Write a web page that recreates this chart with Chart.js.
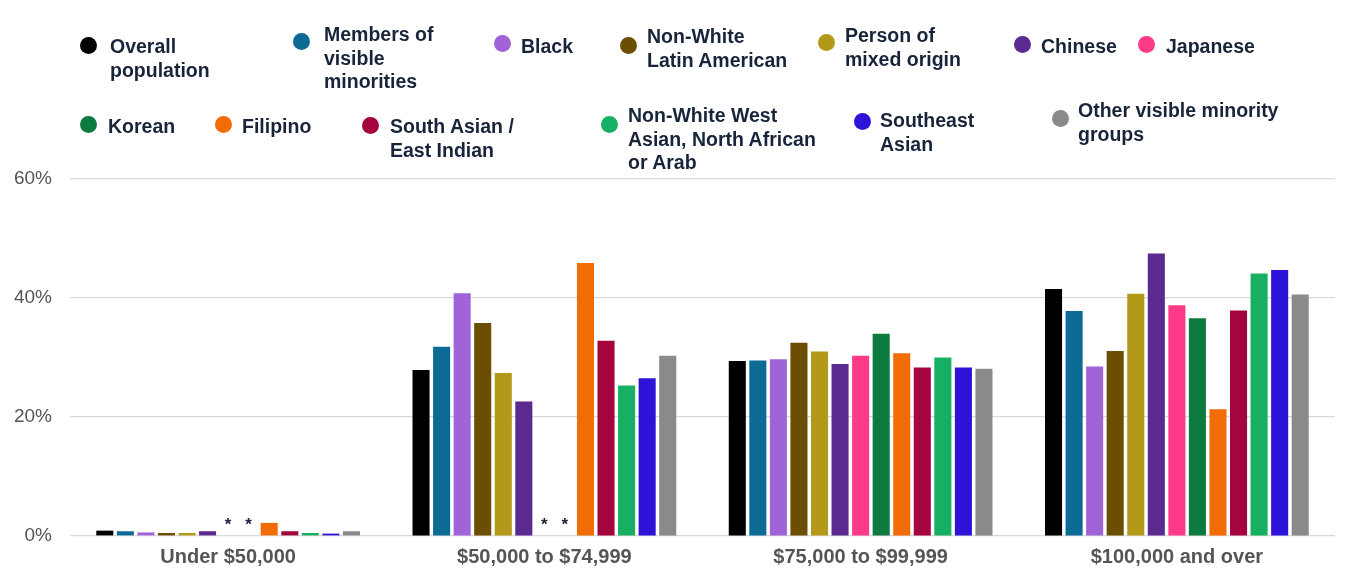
<!DOCTYPE html>
<html>
<head>
<meta charset="utf-8">
<script src="https://cdn.jsdelivr.net/npm/chart.js@4/dist/chart.umd.min.js"></script>
<style>
    body { margin: 0; background: #fff; font-family: "Liberation Sans", Arial, sans-serif; }
    #wrap { position: relative; width: 1345px; height: 571px; }
    #incomeChart { position: absolute; left: 0; top: 0; }
    .item { position: absolute; font-weight: bold; font-size: 19.5px; line-height: 23.5px; color: #18243a; }
    .dot { position: absolute; width: 17px; height: 17px; border-radius: 50%; }
</style>
</head>
<body>
<div id="wrap">
    <canvas id="incomeChart" width="1345" height="571"></canvas>
    <div id="legend"></div>
</div>
<script>
// Household income by visible minority group

const categories = ['Under $50,000', '$50,000 to $74,999', '$75,000 to $99,999', '$100,000 and over'];
const yTicks = [0, 20, 40, 60];

const overall = [0.9, 27.9, 29.4, 41.5];
const visibleMinorities = [0.8, 31.8, 29.5, 37.8];
const black = [0.6, 40.8, 29.7, 28.5];
const latinAmerican = [0.5, 35.8, 32.5, 31.1];
const mixedOrigin = [0.5, 27.4, 31.0, 40.7];
const chinese = [0.8, 22.6, 28.9, 47.5];
const japanese = [null, null, 30.3, 38.8];
const korean = [null, null, 34.0, 36.6];
const filipino = [2.2, 45.9, 30.7, 21.3];
const southAsian = [0.8, 32.8, 28.3, 37.9];
const westAsian = [0.5, 25.3, 30.0, 44.1];
const southeastAsian = [0.4, 26.5, 28.3, 44.7];
const otherGroups = [0.8, 30.3, 28.1, 40.6];

const series = [
    { label: 'Overall population', lines: ['Overall', 'population'], data: overall, color: '#000000' },
    { label: 'Members of visible minorities', lines: ['Members of', 'visible', 'minorities'], data: visibleMinorities, color: '#0b6b95' },
    { label: 'Black', lines: ['Black'], data: black, color: '#a163d8' },
    { label: 'Non-White Latin American', lines: ['Non-White', 'Latin American'], data: latinAmerican, color: '#6c4e02' },
    { label: 'Person of mixed origin', lines: ['Person of', 'mixed origin'], data: mixedOrigin, color: '#b3991a' },
    { label: 'Chinese', lines: ['Chinese'], data: chinese, color: '#5b2a90' },
    { label: 'Japanese', lines: ['Japanese'], data: japanese, color: '#fd3a88' },
    { label: 'Korean', lines: ['Korean'], data: korean, color: '#0d7a40' },
    { label: 'Filipino', lines: ['Filipino'], data: filipino, color: '#f26c05' },
    { label: 'South Asian / East Indian', lines: ['South Asian /', 'East Indian'], data: southAsian, color: '#a5053e' },
    { label: 'Non-White West Asian, North African or Arab', lines: ['Non-White West', 'Asian, North African', 'or Arab'], data: westAsian, color: '#17b062' },
    { label: 'Southeast Asian', lines: ['Southeast', 'Asian'], data: southeastAsian, color: '#2d12d8' },
    { label: 'Other visible minority groups', lines: ['Other visible minority', 'groups'], data: otherGroups, color: '#8a8a8a' }
];

// legend placement: [dot x, dot y, text x, text top]
const legendSpots = [
    [80, 37, 110, 35], [293, 33, 324, 23], [494, 35, 521, 35], [620, 37, 647, 25],
    [818, 34, 845, 24], [1014, 36, 1041, 35], [1138, 36, 1166, 35],
    [80, 116, 108, 115], [215, 116, 242, 115], [362, 117, 390, 115], [601, 116, 628, 104],
    [854, 113, 880, 109], [1052, 110, 1078, 99]
];

function buildLegend() {
    const box = document.getElementById('legend');
    series.forEach((s, i) => {
        const spot = legendSpots[i];
        const dot = document.createElement('div');
        dot.className = 'dot';
        dot.style.left = spot[0] + 'px';
        dot.style.top = spot[1] + 'px';
        dot.style.background = s.color;
        box.appendChild(dot);
        const txt = document.createElement('div');
        txt.className = 'item';
        txt.style.left = spot[2] + 'px';
        txt.style.top = spot[3] + 'px';
        txt.innerHTML = s.lines.join('<br>');
        box.appendChild(txt);
    });
}

// asterisks where a value is not available
const missingMarks = {
    id: 'missingMarks',
    afterDatasetsDraw(chart) {
        const ctx = chart.ctx;
        const yZero = chart.scales.y.getPixelForValue(0);
        ctx.save();
        ctx.font = 'bold 17px "Liberation Sans", Arial, sans-serif';
        ctx.fillStyle = '#18243a';
        ctx.textAlign = 'center';
        ctx.textBaseline = 'middle';
        chart.data.datasets.forEach((ds, d) => {
            const meta = chart.getDatasetMeta(d);
            ds.data.forEach((v, i) => {
                if (v === null && meta.data[i]) {
                    ctx.fillText('*', meta.data[i].x, yZero - 11);
                }
            });
        });
        ctx.restore();
    }
};

function plotGraph() {
    const ctx = document.getElementById('incomeChart').getContext('2d');
    new Chart(ctx, {
        type: 'bar',
        data: {
            labels: categories,
            datasets: series.map(s => ({
                label: s.label,
                data: s.data,
                backgroundColor: s.color,
                borderWidth: 0,
                categoryPercentage: 0.845,
                barPercentage: 0.83
            }))
        },
        options: {
            responsive: false,
            animation: false,
            layout: { padding: { top: 179, right: 10, left: 0, bottom: 0 } },
            plugins: {
                legend: { display: false },
                tooltip: { enabled: false }
            },
            scales: {
                x: {
                    grid: { display: false, drawTicks: false },
                    border: { display: false },
                    afterFit: axis => { axis.height = 35; },
                    ticks: {
                        color: '#555',
                        padding: 9,
                        font: { family: '"Liberation Sans", Arial, sans-serif', size: 20, weight: 'bold' }
                    }
                },
                y: {
                    min: 0,
                    max: 60,
                    afterBuildTicks: axis => { axis.ticks = yTicks.map(v => ({ value: v })); },
                    afterFit: axis => { axis.width = 70; },
                    grid: { color: '#d9d9d9', lineWidth: 1.2, drawTicks: false },
                    border: { display: false },
                    ticks: {
                        color: '#555',
                        padding: 18,
                        font: { family: '"Liberation Sans", Arial, sans-serif', size: 19 },
                        callback: v => v + '%'
                    }
                }
            }
        },
        plugins: [missingMarks]
    });
}

buildLegend();
plotGraph();
</script>
</body>
</html>
